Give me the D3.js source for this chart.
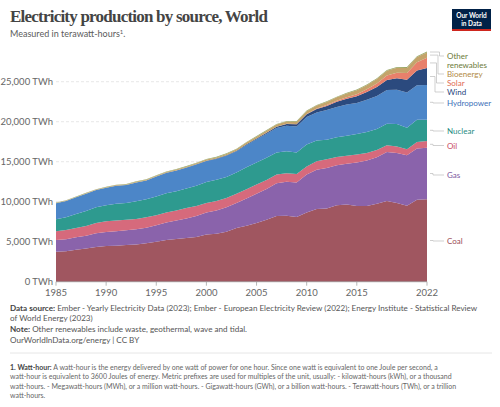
<!DOCTYPE html>
<html><head><meta charset="utf-8">
<script src="https://cdn.jsdelivr.net/npm/d3@7"></script>
<style>body{margin:0;background:#fff}svg{font-family:Lato,sans-serif}</style>
</head><body><svg id="c" width="500" height="407"></svg>
<script>
const years = d3.range(1985, 2023);
const coal = [3750,3800,4000,4150,4350,4450,4500,4580,4650,4800,5000,5200,5350,5450,5600,5900,6000,6250,6700,7000,7350,7750,8200,8250,8100,8650,9100,9150,9550,9650,9450,9450,9750,10100,9850,9500,10250,10300];
const gas = [1450,1500,1550,1600,1700,1750,1800,1850,1900,1950,2050,2200,2300,2450,2600,2750,2900,3050,3150,3400,3650,3850,4100,4250,4300,4750,4900,5050,5000,5100,5450,5700,5800,6100,6250,6300,6400,6450];
const oil = [1100,1150,1150,1200,1300,1350,1350,1300,1300,1300,1250,1250,1250,1300,1250,1200,1200,1150,1150,1150,1150,1100,1100,1050,1050,1000,1050,1100,1050,1000,1000,950,900,850,800,750,800,850];
const nuclear = [1500,1600,1750,1900,1950,2000,2100,2100,2200,2250,2350,2400,2400,2450,2550,2600,2650,2650,2650,2750,2750,2800,2750,2750,2700,2750,2600,2450,2450,2500,2550,2600,2650,2700,2800,2700,2800,2650];
const hydro = [2000,2050,2100,2150,2150,2200,2250,2250,2350,2350,2500,2550,2600,2600,2650,2650,2600,2650,2650,2800,2900,3000,3050,3200,3250,3450,3500,3700,3800,3900,3900,4050,4100,4200,4300,4400,4300,4350];
const wind = [0,1,1,2,3,4,4,5,6,7,8,12,15,21,26,31,38,52,63,85,104,133,171,221,277,342,437,524,636,712,831,962,1140,1270,1420,1590,1850,2100];
const solar = [0,0,0,0,0,0,0,0,0,0,0,0,0,1,1,1,1,2,2,3,4,5,8,12,20,32,63,98,135,190,256,329,444,570,704,846,1030,1290];
const bio = [40,45,50,55,60,65,70,75,80,85,90,95,100,110,120,140,150,165,180,200,220,240,260,280,300,330,360,390,420,460,490,520,550,580,610,640,660,670];
const other = [45,47,49,51,53,55,56,57,58,59,60,62,63,65,67,70,72,74,76,78,80,82,84,86,88,90,91,92,93,94,95,96,97,98,99,100,100,100];
const yTicks = [0,5000,10000,15000,20000,25000];
const xTicks = [1985,1990,1995,2000,2005,2010,2015,2022];

const series = [
 {k:"Coal",v:coal,c:"#a05660",t:"#9a4a55"},
 {k:"Gas",v:gas,c:"#8a63ab",t:"#7d57a0"},
 {k:"Oil",v:oil,c:"#d66a7c",t:"#c84c65"},
 {k:"Nuclear",v:nuclear,c:"#2e9a8f",t:"#1f8a80"},
 {k:"Hydropower",v:hydro,c:"#4c86c8",t:"#3c70b8"},
 {k:"Wind",v:wind,c:"#2b4a7e",t:"#28467c"},
 {k:"Solar",v:solar,c:"#e8806b",t:"#e06a52"},
 {k:"Bioenergy",v:bio,c:"#c4a36a",t:"#b28a45"},
 {k:"Other renewables",v:other,c:"#97a562",t:"#6d7a3a"}
];
const table = years.map((y,i)=>{const o={year:y};series.forEach(s=>o[s.k]=s.v[i]);return o;});
const stack = d3.stack().keys(series.map(s=>s.k))(table);

const svg = d3.select("#c");
const x = d3.scaleLinear().domain([1985,2022]).range([56,427]);
const y = d3.scaleLinear().domain([0,15000]).range([281.7,161.7]);

svg.append("text").attr("x",10).attr("y",22).attr("font-family","'Liberation Serif',serif").attr("font-weight","bold").attr("font-size",17).attr("fill","#444").attr("textLength",258).text("Electricity production by source, World");
svg.append("text").attr("x",10).attr("y",37).attr("font-size",9).attr("fill","#5b5b5b").html('Measured in terawatt-hours<tspan font-size="6" dy="-3.5">1</tspan><tspan dy="3.5">.</tspan>');
const lg = svg.append("g");
lg.append("rect").attr("x",452).attr("y",9).attr("width",39).attr("height",21).attr("fill","#002147");
lg.append("rect").attr("x",452).attr("y",29).attr("width",39).attr("height",2).attr("fill","#ce261e");
lg.append("text").attr("x",471.5).attr("y",18).attr("text-anchor","middle").attr("font-size",6.5).attr("font-weight","bold").attr("fill","#fff").text("Our World");
lg.append("text").attr("x",471.5).attr("y",25.5).attr("text-anchor","middle").attr("font-size",6.5).attr("font-weight","bold").attr("fill","#fff").text("in Data");

yTicks.forEach(t=>{
  svg.append("line").attr("x1",56).attr("x2",427).attr("y1",y(t)).attr("y2",y(t)).attr("stroke","#ddd").attr("stroke-dasharray",t?"3,2":null).attr("stroke-width",0.7);
  svg.append("text").attr("x",53).attr("y",y(t)+3.5).attr("text-anchor","end").attr("font-size",9.5).attr("fill","#666").text(d3.format(",")(t)+" TWh");
});
const area = d3.area().x(d=>x(d.data.year)).y0(d=>y(d[0])).y1(d=>y(d[1]));
svg.append("g").selectAll("path").data(stack).join("path").attr("d",area).attr("fill",(d,i)=>series[i].c);
svg.append("line").attr("x1",56).attr("x2",427).attr("y1",y(0)).attr("y2",y(0)).attr("stroke","#999").attr("stroke-width",0.7);
xTicks.forEach(t=>{
  svg.append("line").attr("x1",x(t)).attr("x2",x(t)).attr("y1",y(0)).attr("y2",y(0)+4).attr("stroke","#999").attr("stroke-width",0.7);
  svg.append("text").attr("x",x(t)).attr("y",y(0)+14).attr("text-anchor","middle").attr("font-size",9.5).attr("fill","#666").text(t);
});

const labY = {"Coal":244,"Gas":178,"Oil":148.5,"Nuclear":134,"Hydropower":106,"Wind":95,"Solar":86,"Bioenergy":77,"Other renewables":59};
const last = stack.map(s=>s[s.length-1]);
series.forEach((s,i)=>{
  const ym = y((last[i][0]+last[i][1])/2);
  const ly = labY[s.k];
  const off = [0,0,0,0,0,4,7,10,13][i];
  svg.append("path").attr("d",`M430,${ym}H${433+off/2}V${ly-3}H444`).attr("fill","none").attr("stroke","#bbb").attr("stroke-width",0.7);
  const tx = svg.append("text").attr("x",447).attr("y",ly).attr("font-size",8).attr("fill",s.t);
  if(s.k==="Other renewables"){tx.append("tspan").attr("x",447).text("Other");tx.append("tspan").attr("x",447).attr("dy",9).text("renewables");}
  else tx.text(s.k);
});

const f = svg.append("g").attr("font-size",8.1).attr("fill","#555");
f.append("text").attr("x",10).attr("y",311).html('<tspan font-weight="bold" fill="#444">Data source:</tspan> Ember - Yearly Electricity Data (2023); Ember - European Electricity Review (2022); Energy Institute - Statistical Review');
f.append("text").attr("x",10).attr("y",321).text("of World Energy (2023)");
f.append("text").attr("x",10).attr("y",332).html('<tspan font-weight="bold" fill="#444">Note:</tspan> Other renewables include waste, geothermal, wave and tidal.');
f.append("text").attr("x",10).attr("y",343).text("OurWorldInData.org/energy | CC BY");
svg.append("line").attr("x1",10).attr("x2",492).attr("y1",353).attr("y2",353).attr("stroke","#e6e6e6");
const g2 = svg.append("g").attr("font-size",7).attr("fill","#666");
const fl = ['<tspan font-weight="bold" fill="#444">1. Watt-hour:</tspan> A watt-hour is the energy delivered by one watt of power for one hour. Since one watt is equivalent to one Joule per second, a',
'watt-hour is equivalent to 3600 Joules of energy. Metric prefixes are used for multiples of the unit, usually: - kilowatt-hours (kWh), or a thousand',
'watt-hours. - Megawatt-hours (MWh), or a million watt-hours. - Gigawatt-hours (GWh), or a billion watt-hours. - Terawatt-hours (TWh), or a trillion',
'watt-hours.'];
fl.forEach((l,i)=>g2.append("text").attr("x",10).attr("y",370+i*9.3).html(l));
</script></body></html>
